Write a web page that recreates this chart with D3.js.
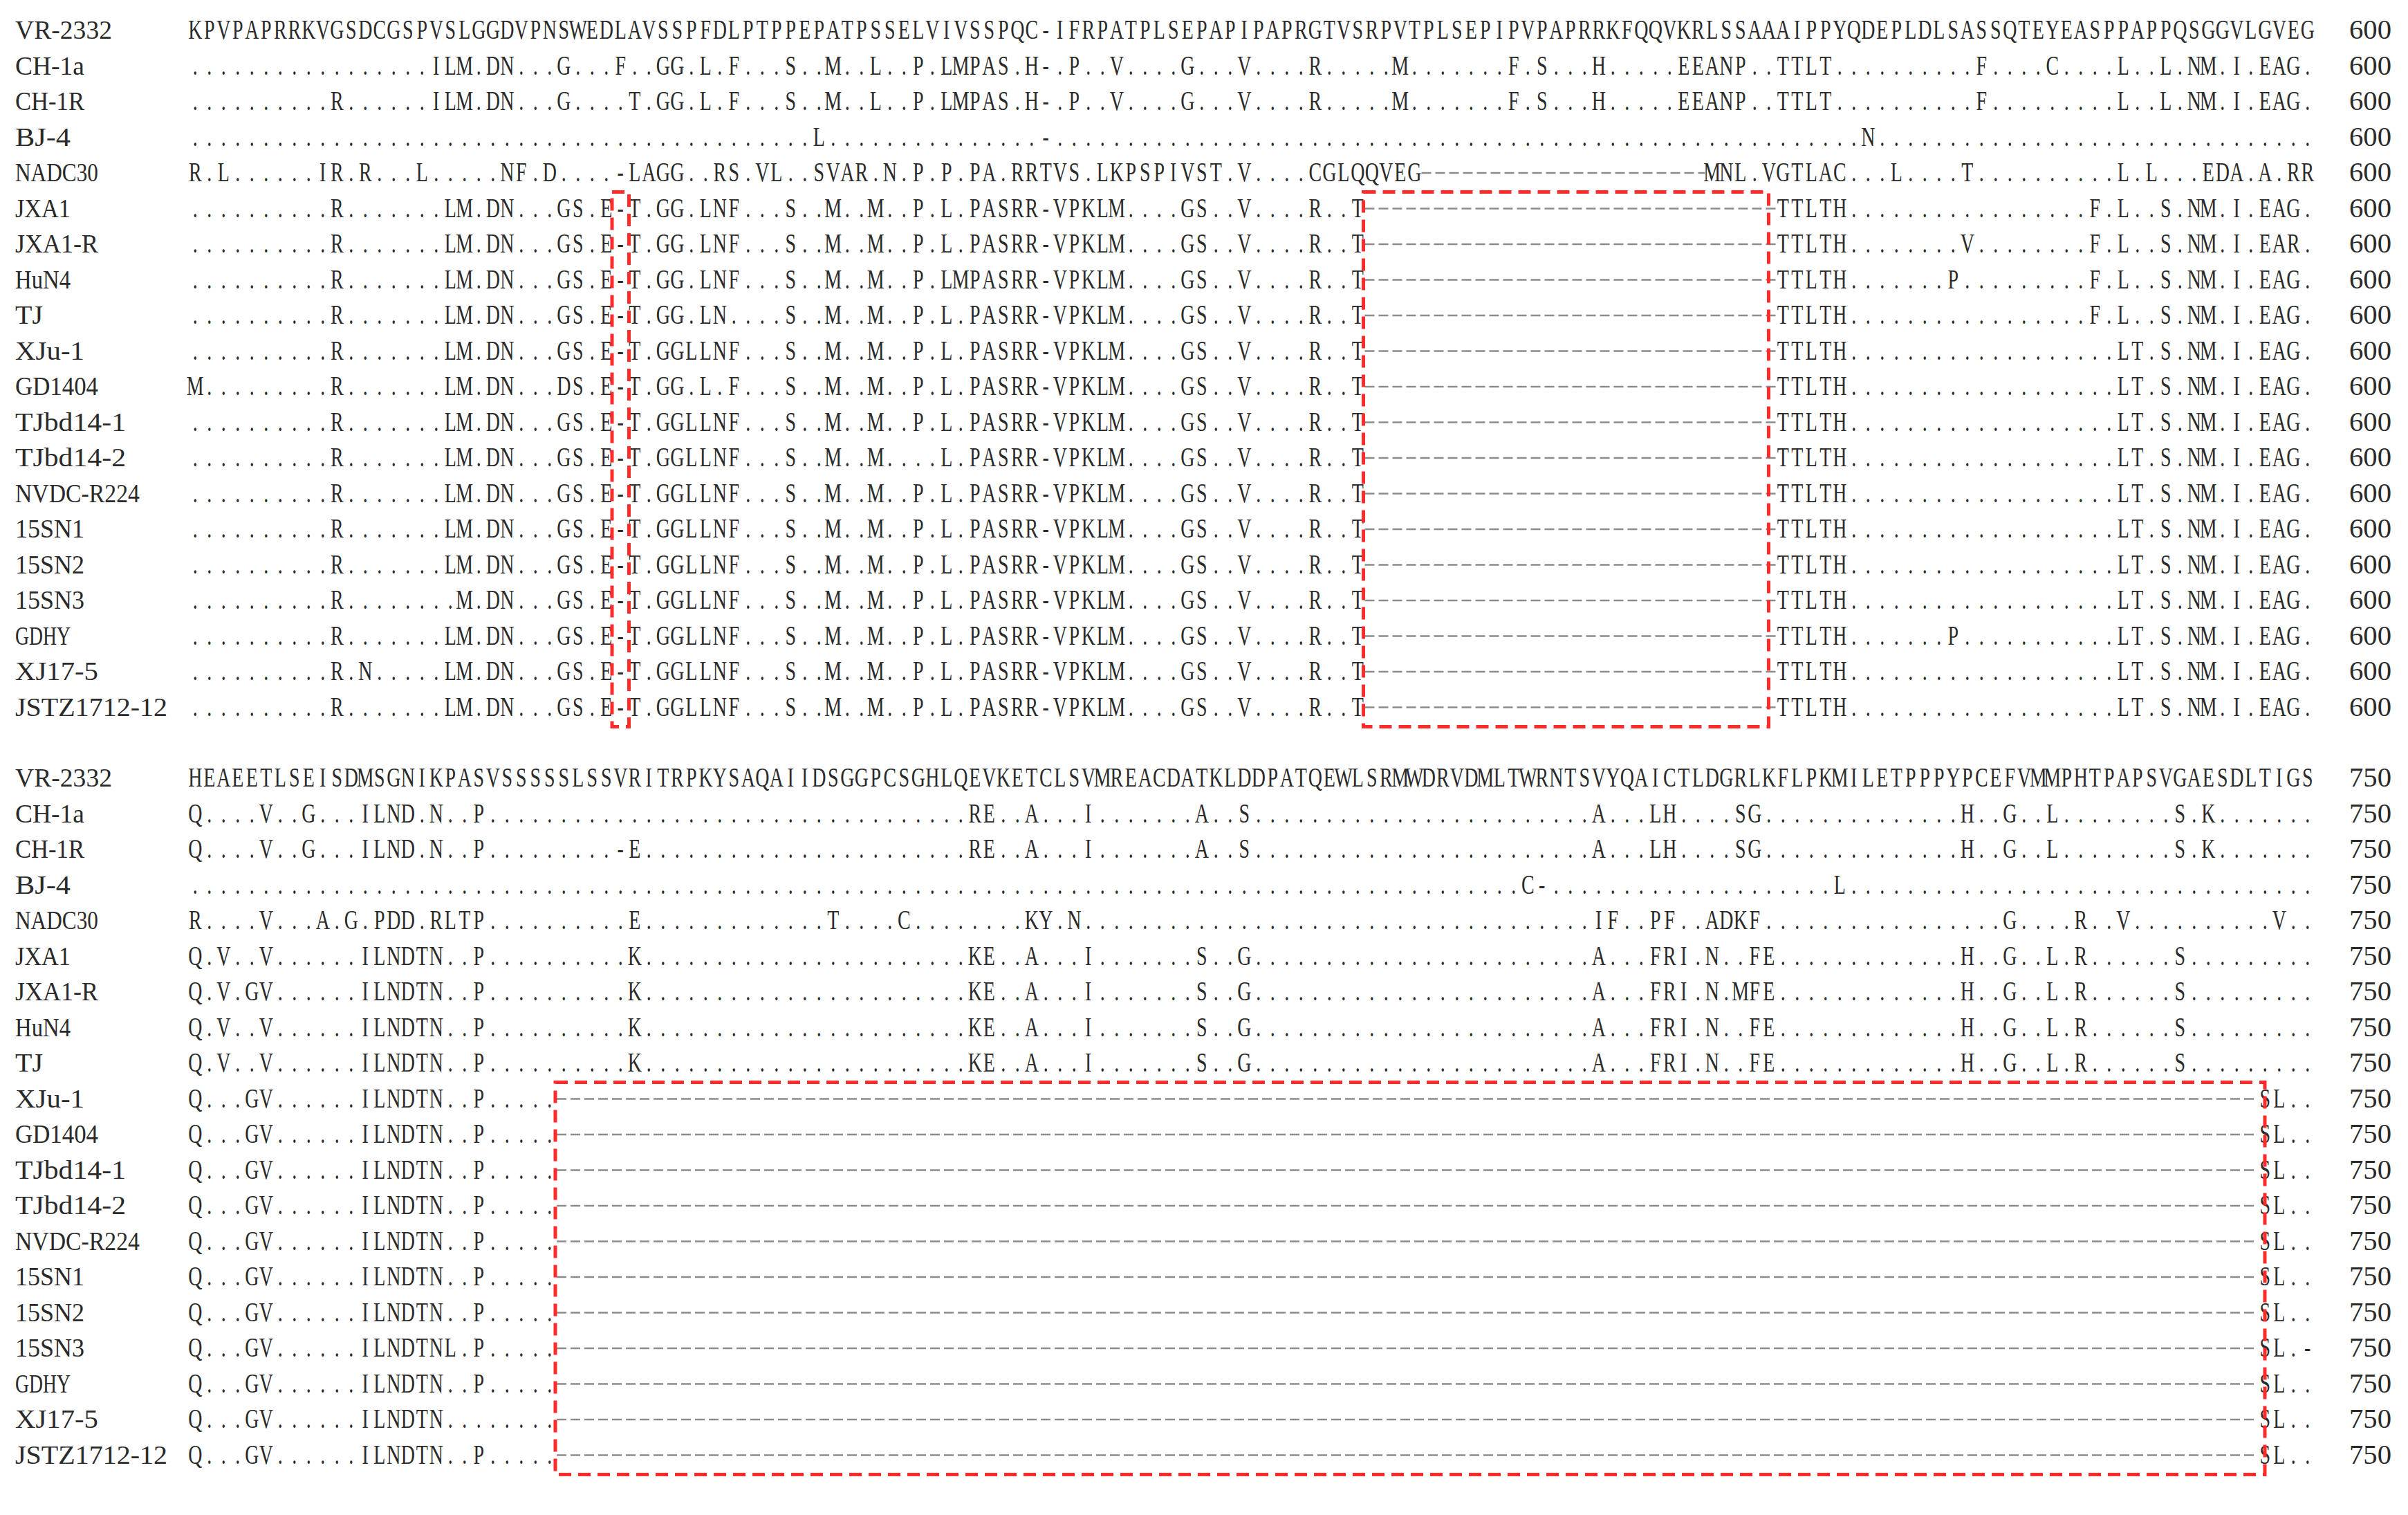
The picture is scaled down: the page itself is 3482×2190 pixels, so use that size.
<!DOCTYPE html>
<html>
<head>
<meta charset="utf-8">
<script src="https://cdn.jsdelivr.net/npm/d3@7"></script>
<style>
  html, body { margin: 0; background: #fff; }
  text { font-family: "Liberation Serif", "DejaVu Serif", serif; fill: #2a2a2a; }
</style>
</head>
<body>
<div id="chart"></div>
<script>
// strain names, in row order
const names = ['VR-2332', 'CH-1a', 'CH-1R', 'BJ-4', 'NADC30', 'JXA1', 'JXA1-R', 'HuN4', 'TJ', 'XJu-1',
    'GD1404', 'TJbd14-1', 'TJbd14-2', 'NVDC-R224', '15SN1', '15SN2', '15SN3', 'GDHY', 'XJ17-5', 'JSTZ1712-12'];

const refTop = 'KPVPAPRRKVGSDCGSPVSLGGDVPNSWEDLAVSSPFDLPTPPEPATPSSELVIVSSPQC-IFRPATPLSEPAPIPAPRGTVSRPVTPLSEPIPVPAPRRKFQQVKRLSSAAAIPPYQDEPLDLSASSQTEYEASPPAPPQSGGVLGVEG';
const refBottom = 'HEAEETLSEISDMSGNIKPASVSSSSSLSSVRITRPKYSAQAIIDSGGPCSGHLQEVKETCLSVMREACDATKLDDPATQEWLSRMWDRVDMLTWRNTSVYQAICTLDGRLKFLPKMILETPPPYPCEFVMMPHTPAPSVGAESDLTIGS';
const endTop = '600';
const endBottom = '750';

// differences from VR-2332: [column, residues]; every other column is '.'
const diffTop = [
    [[18, 'ILM'], [22, 'DN'], [27, 'G'], [31, 'F'], [34, 'GG'], [37, 'L'], [39, 'F'], [43, 'S'], [46, 'M'], [49, 'L'], [52, 'P'], [54, 'LMPAS'], [60, 'H-'], [63, 'P'], [66, 'V'], [71, 'G'], [75, 'V'], [80, 'R'], [86, 'M'], [94, 'F'], [96, 'S'], [100, 'H'], [106, 'EEANP'], [113, 'TTLT'], [127, 'F'], [132, 'C'], [137, 'L'], [140, 'L'], [142, 'NM'], [145, 'I'], [147, 'EAG']],
    [[11, 'R'], [18, 'ILM'], [22, 'DN'], [27, 'G'], [32, 'T'], [34, 'GG'], [37, 'L'], [39, 'F'], [43, 'S'], [46, 'M'], [49, 'L'], [52, 'P'], [54, 'LMPAS'], [60, 'H-'], [63, 'P'], [66, 'V'], [71, 'G'], [75, 'V'], [80, 'R'], [86, 'M'], [94, 'F'], [96, 'S'], [100, 'H'], [106, 'EEANP'], [113, 'TTLT'], [127, 'F'], [137, 'L'], [140, 'L'], [142, 'NM'], [145, 'I'], [147, 'EAG']],
    [[45, 'L'], [61, '-'], [119, 'N']],
    [[1, 'R'], [3, 'L'], [10, 'IR'], [13, 'R'], [17, 'L'], [23, 'NF'], [26, 'D'], [31, '-LAGG'], [38, 'RS'], [41, 'VL'], [45, 'SVAR'], [50, 'N'], [52, 'P'], [54, 'P'], [56, 'PA'], [59, 'RRTVS'], [65, 'LKPSPIVST'], [75, 'V'], [80, 'CGLQQVEG'], [108, 'MNL'], [112, 'VGTLAC'], [121, 'L'], [126, 'T'], [137, 'L'], [139, 'L'], [143, 'EDA'], [147, 'A'], [149, 'RR']],
    [[11, 'R'], [19, 'LM'], [22, 'DN'], [27, 'GS'], [30, 'E-T'], [34, 'GG'], [37, 'LNF'], [43, 'S'], [46, 'M'], [49, 'M'], [52, 'P'], [54, 'L'], [56, 'PASRR-VPKLM'], [71, 'GS'], [75, 'V'], [80, 'R'], [83, 'T'], [113, 'TTLTH'], [135, 'F'], [137, 'L'], [140, 'S'], [142, 'NM'], [145, 'I'], [147, 'EAG']],
    [[11, 'R'], [19, 'LM'], [22, 'DN'], [27, 'GS'], [30, 'E-T'], [34, 'GG'], [37, 'LNF'], [43, 'S'], [46, 'M'], [49, 'M'], [52, 'P'], [54, 'L'], [56, 'PASRR-VPKLM'], [71, 'GS'], [75, 'V'], [80, 'R'], [83, 'T'], [113, 'TTLTH'], [126, 'V'], [135, 'F'], [137, 'L'], [140, 'S'], [142, 'NM'], [145, 'I'], [147, 'EAR']],
    [[11, 'R'], [19, 'LM'], [22, 'DN'], [27, 'GS'], [30, 'E-T'], [34, 'GG'], [37, 'LNF'], [43, 'S'], [46, 'M'], [49, 'M'], [52, 'P'], [54, 'LM'], [56, 'PASRR-VPKLM'], [71, 'GS'], [75, 'V'], [80, 'R'], [83, 'T'], [113, 'TTLTH'], [125, 'P'], [135, 'F'], [137, 'L'], [140, 'S'], [142, 'NM'], [145, 'I'], [147, 'EAG']],
    [[11, 'R'], [19, 'LM'], [22, 'DN'], [27, 'GS'], [30, 'E-T'], [34, 'GG'], [37, 'LN'], [43, 'S'], [46, 'M'], [49, 'M'], [52, 'P'], [54, 'L'], [56, 'PASRR-VPKLM'], [71, 'GS'], [75, 'V'], [80, 'R'], [83, 'T'], [113, 'TTLTH'], [135, 'F'], [137, 'L'], [140, 'S'], [142, 'NM'], [145, 'I'], [147, 'EAG']],
    [[11, 'R'], [19, 'LM'], [22, 'DN'], [27, 'GS'], [30, 'E-T'], [34, 'GGLLNF'], [43, 'S'], [46, 'M'], [49, 'M'], [52, 'P'], [54, 'L'], [56, 'PASRR-VPKLM'], [71, 'GS'], [75, 'V'], [80, 'R'], [83, 'T'], [113, 'TTLTH'], [137, 'LT'], [140, 'S'], [142, 'NM'], [145, 'I'], [147, 'EAG']],
    [[1, 'M'], [11, 'R'], [19, 'LM'], [22, 'DN'], [27, 'DS'], [30, 'E-T'], [34, 'GG'], [37, 'L'], [39, 'F'], [43, 'S'], [46, 'M'], [49, 'M'], [52, 'P'], [54, 'L'], [56, 'PASRR-VPKLM'], [71, 'GS'], [75, 'V'], [80, 'R'], [83, 'T'], [113, 'TTLTH'], [137, 'LT'], [140, 'S'], [142, 'NM'], [145, 'I'], [147, 'EAG']],
    [[11, 'R'], [19, 'LM'], [22, 'DN'], [27, 'GS'], [30, 'E-T'], [34, 'GGLLNF'], [43, 'S'], [46, 'M'], [49, 'M'], [52, 'P'], [54, 'L'], [56, 'PASRR-VPKLM'], [71, 'GS'], [75, 'V'], [80, 'R'], [83, 'T'], [113, 'TTLTH'], [137, 'LT'], [140, 'S'], [142, 'NM'], [145, 'I'], [147, 'EAG']],
    [[11, 'R'], [19, 'LM'], [22, 'DN'], [27, 'GS'], [30, 'E-T'], [34, 'GGLLNF'], [43, 'S'], [46, 'M'], [49, 'M'], [54, 'L'], [56, 'PASRR-VPKLM'], [71, 'GS'], [75, 'V'], [80, 'R'], [83, 'T'], [113, 'TTLTH'], [137, 'LT'], [140, 'S'], [142, 'NM'], [145, 'I'], [147, 'EAG']],
    [[11, 'R'], [19, 'LM'], [22, 'DN'], [27, 'GS'], [30, 'E-T'], [34, 'GGLLNF'], [43, 'S'], [46, 'M'], [49, 'M'], [52, 'P'], [54, 'L'], [56, 'PASRR-VPKLM'], [71, 'GS'], [75, 'V'], [80, 'R'], [83, 'T'], [113, 'TTLTH'], [137, 'LT'], [140, 'S'], [142, 'NM'], [145, 'I'], [147, 'EAG']],
    [[11, 'R'], [19, 'LM'], [22, 'DN'], [27, 'GS'], [30, 'E-T'], [34, 'GGLLNF'], [43, 'S'], [46, 'M'], [49, 'M'], [52, 'P'], [54, 'L'], [56, 'PASRR-VPKLM'], [71, 'GS'], [75, 'V'], [80, 'R'], [83, 'T'], [113, 'TTLTH'], [137, 'LT'], [140, 'S'], [142, 'NM'], [145, 'I'], [147, 'EAG']],
    [[11, 'R'], [19, 'LM'], [22, 'DN'], [27, 'GS'], [30, 'E-T'], [34, 'GGLLNF'], [43, 'S'], [46, 'M'], [49, 'M'], [52, 'P'], [54, 'L'], [56, 'PASRR-VPKLM'], [71, 'GS'], [75, 'V'], [80, 'R'], [83, 'T'], [113, 'TTLTH'], [137, 'LT'], [140, 'S'], [142, 'NM'], [145, 'I'], [147, 'EAG']],
    [[11, 'R'], [20, 'M'], [22, 'DN'], [27, 'GS'], [30, 'E-T'], [34, 'GGLLNF'], [43, 'S'], [46, 'M'], [49, 'M'], [52, 'P'], [54, 'L'], [56, 'PASRR-VPKLM'], [71, 'GS'], [75, 'V'], [80, 'R'], [83, 'T'], [113, 'TTLTH'], [137, 'LT'], [140, 'S'], [142, 'NM'], [145, 'I'], [147, 'EAG']],
    [[11, 'R'], [19, 'LM'], [22, 'DN'], [27, 'GS'], [30, 'E-T'], [34, 'GGLLNF'], [43, 'S'], [46, 'M'], [49, 'M'], [52, 'P'], [54, 'L'], [56, 'PASRR-VPKLM'], [71, 'GS'], [75, 'V'], [80, 'R'], [83, 'T'], [113, 'TTLTH'], [125, 'P'], [137, 'LT'], [140, 'S'], [142, 'NM'], [145, 'I'], [147, 'EAG']],
    [[11, 'R'], [13, 'N'], [19, 'LM'], [22, 'DN'], [27, 'GS'], [30, 'E-T'], [34, 'GGLLNF'], [43, 'S'], [46, 'M'], [49, 'M'], [52, 'P'], [54, 'L'], [56, 'PASRR-VPKLM'], [71, 'GS'], [75, 'V'], [80, 'R'], [83, 'T'], [113, 'TTLTH'], [137, 'LT'], [140, 'S'], [142, 'NM'], [145, 'I'], [147, 'EAG']],
    [[11, 'R'], [19, 'LM'], [22, 'DN'], [27, 'GS'], [30, 'E-T'], [34, 'GGLLNF'], [43, 'S'], [46, 'M'], [49, 'M'], [52, 'P'], [54, 'L'], [56, 'PASRR-VPKLM'], [71, 'GS'], [75, 'V'], [80, 'R'], [83, 'T'], [113, 'TTLTH'], [137, 'LT'], [140, 'S'], [142, 'NM'], [145, 'I'], [147, 'EAG']]
];
// deletions drawn as a dashed run: [first column, last column]
const gapTop = [[], [], [], [[88, 107]], [[84, 112]], [[84, 112]], [[84, 112]], [[84, 112]], [[84, 112]], [[84, 112]],
    [[84, 112]], [[84, 112]], [[84, 112]], [[84, 112]], [[84, 112]], [[84, 112]], [[84, 112]], [[84, 112]], [[84, 112]]];

const jxa1Bottom = [[1, 'Q'], [3, 'V'], [6, 'V'], [13, 'ILNDTN'], [21, 'P'], [32, 'K'], [56, 'KE'], [60, 'A'], [64, 'I'], [72, 'S'], [75, 'G'], [100, 'A'], [104, 'FRI'], [108, 'N'], [111, 'FE'], [126, 'H'], [129, 'G'], [132, 'L'], [134, 'R'], [141, 'S']];
const xjuBottom = [[1, 'Q'], [5, 'GV'], [13, 'ILNDTN'], [21, 'P'], [147, 'SL']];
const diffBottom = [
    [[1, 'Q'], [6, 'V'], [9, 'G'], [13, 'ILND'], [18, 'N'], [21, 'P'], [56, 'RE'], [60, 'A'], [64, 'I'], [72, 'A'], [75, 'S'], [100, 'A'], [104, 'LH'], [110, 'SG'], [126, 'H'], [129, 'G'], [132, 'L'], [141, 'S'], [143, 'K']],
    [[1, 'Q'], [6, 'V'], [9, 'G'], [13, 'ILND'], [18, 'N'], [21, 'P'], [31, '-E'], [56, 'RE'], [60, 'A'], [64, 'I'], [72, 'A'], [75, 'S'], [100, 'A'], [104, 'LH'], [110, 'SG'], [126, 'H'], [129, 'G'], [132, 'L'], [141, 'S'], [143, 'K']],
    [[95, 'C-'], [117, 'L']],
    [[1, 'R'], [6, 'V'], [10, 'A'], [12, 'G'], [14, 'PDD'], [18, 'RLTP'], [32, 'E'], [46, 'T'], [51, 'C'], [60, 'KY'], [63, 'N'], [100, 'IF'], [104, 'PF'], [108, 'ADKF'], [129, 'G'], [134, 'R'], [137, 'V'], [148, 'V']],
    jxa1Bottom,
    [[1, 'Q'], [3, 'V'], [5, 'GV'], [13, 'ILNDTN'], [21, 'P'], [32, 'K'], [56, 'KE'], [60, 'A'], [64, 'I'], [72, 'S'], [75, 'G'], [100, 'A'], [104, 'FRI'], [108, 'N'], [110, 'MFE'], [126, 'H'], [129, 'G'], [132, 'L'], [134, 'R'], [141, 'S']],
    jxa1Bottom,
    jxa1Bottom,
    xjuBottom, xjuBottom, xjuBottom, xjuBottom, xjuBottom, xjuBottom, xjuBottom,
    [[1, 'Q'], [5, 'GV'], [13, 'ILNDTNL'], [21, 'P'], [147, 'SL'], [150, '-']],
    xjuBottom,
    [[1, 'Q'], [5, 'GV'], [13, 'ILNDTN'], [147, 'SL']],
    xjuBottom
];
const gapBottom = [[], [], [], [], [], [], [], [], [[27, 146]], [[27, 146]], [[27, 146]], [[27, 146]], [[27, 146]],
    [[27, 146]], [[27, 146]], [[27, 146]], [[27, 146]], [[27, 146]], [[27, 146]]];

// red highlight boxes: columns and rows (row 0 = VR-2332)
const boxesTop = [{c0: 31, c1: 31, r0: 5, r1: 19}, {c0: 84, c1: 112, r0: 5, r1: 19}];
const boxesBottom = [{c0: 27, c1: 147, r0: 9, r1: 19}];

const width = 3482, height = 2190;
const fontSize = 40;

const svg = d3.select('#chart').append('svg')
    .attr('width', width).attr('height', height)
    .attr('viewBox', `0 0 ${width} ${height}`);

const x = d3.scaleBand().domain(d3.range(1, 151)).range([272, 272 + 150 * 20.5]);

const rowString = (ref, diffs) => {
    const chars = Array(150).fill('.');
    diffs.forEach(([c, s]) => s.split('').forEach((ch, i) => { chars[c - 1 + i] = ch; }));
    return chars;
};

const drawBlock = (top, ref, diffs, gaps, boxes, endLabel) => {
    const y = d3.scaleLinear().domain([0, 19]).range([top, top + 19 * 51.5]);
    const g = svg.append('g');
    const rows = [ref.split('')].concat(diffs.map(d => rowString(ref, d)));
    const gapSets = [[]].concat(gaps);

    rows.forEach((chars, r) => {
        const inGap = c => gapSets[r].some(([a, b]) => c >= a && c <= b);
        g.append('text')
            .attr('x', 22).attr('y', y(r) + 14)
            .attr('font-size', 38)
            .attr('textLength', names[r].length * 20)
            .attr('lengthAdjust', 'spacingAndGlyphs')
            .text(names[r]);
        g.append('text')
            .attr('x', 3397).attr('y', y(r) + 14)
            .attr('font-size', fontSize)
            .attr('textLength', 61)
            .attr('lengthAdjust', 'spacingAndGlyphs')
            .text(endLabel);
        g.selectAll(null)
            .data(chars.map((ch, i) => ({ch, c: i + 1})).filter(d => !inGap(d.c)))
            .join('text')
            .attr('transform', d => `translate(${x(d.c) + x.bandwidth() / 2},${y(r) + 14}) scale(0.7,1)`)
            .attr('text-anchor', 'middle')
            .attr('font-size', fontSize)
            .text(d => d.ch);
        gapSets[r].forEach(([a, b]) => {
            g.append('line')
                .attr('x1', x(a)).attr('x2', x(b) + x.bandwidth())
                .attr('y1', y(r) + 2).attr('y2', y(r) + 2)
                .attr('stroke', '#8c8c8c').attr('stroke-width', 2.5)
                .attr('stroke-dasharray', '14 6');
        });
    });

    g.selectAll('rect.box')
        .data(boxes)
        .join('rect')
        .attr('class', 'box')
        .attr('x', d => x(d.c0) - 2)
        .attr('y', d => y(d.r0) - 22)
        .attr('width', d => d.c1 === d.c0 ? x.bandwidth() + 4 : x(d.c1) - x(d.c0) + 12)
        .attr('height', d => y(d.r1) - y(d.r0) + 52)
        .attr('fill', 'none')
        .attr('stroke', '#ff2a2a')
        .attr('stroke-width', 5)
        .attr('stroke-dasharray', '18 10');
};

drawBlock(42, refTop, diffTop, gapTop, boxesTop, endTop);
drawBlock(1123, refBottom, diffBottom, gapBottom, boxesBottom, endBottom);
</script>
</body>
</html>
